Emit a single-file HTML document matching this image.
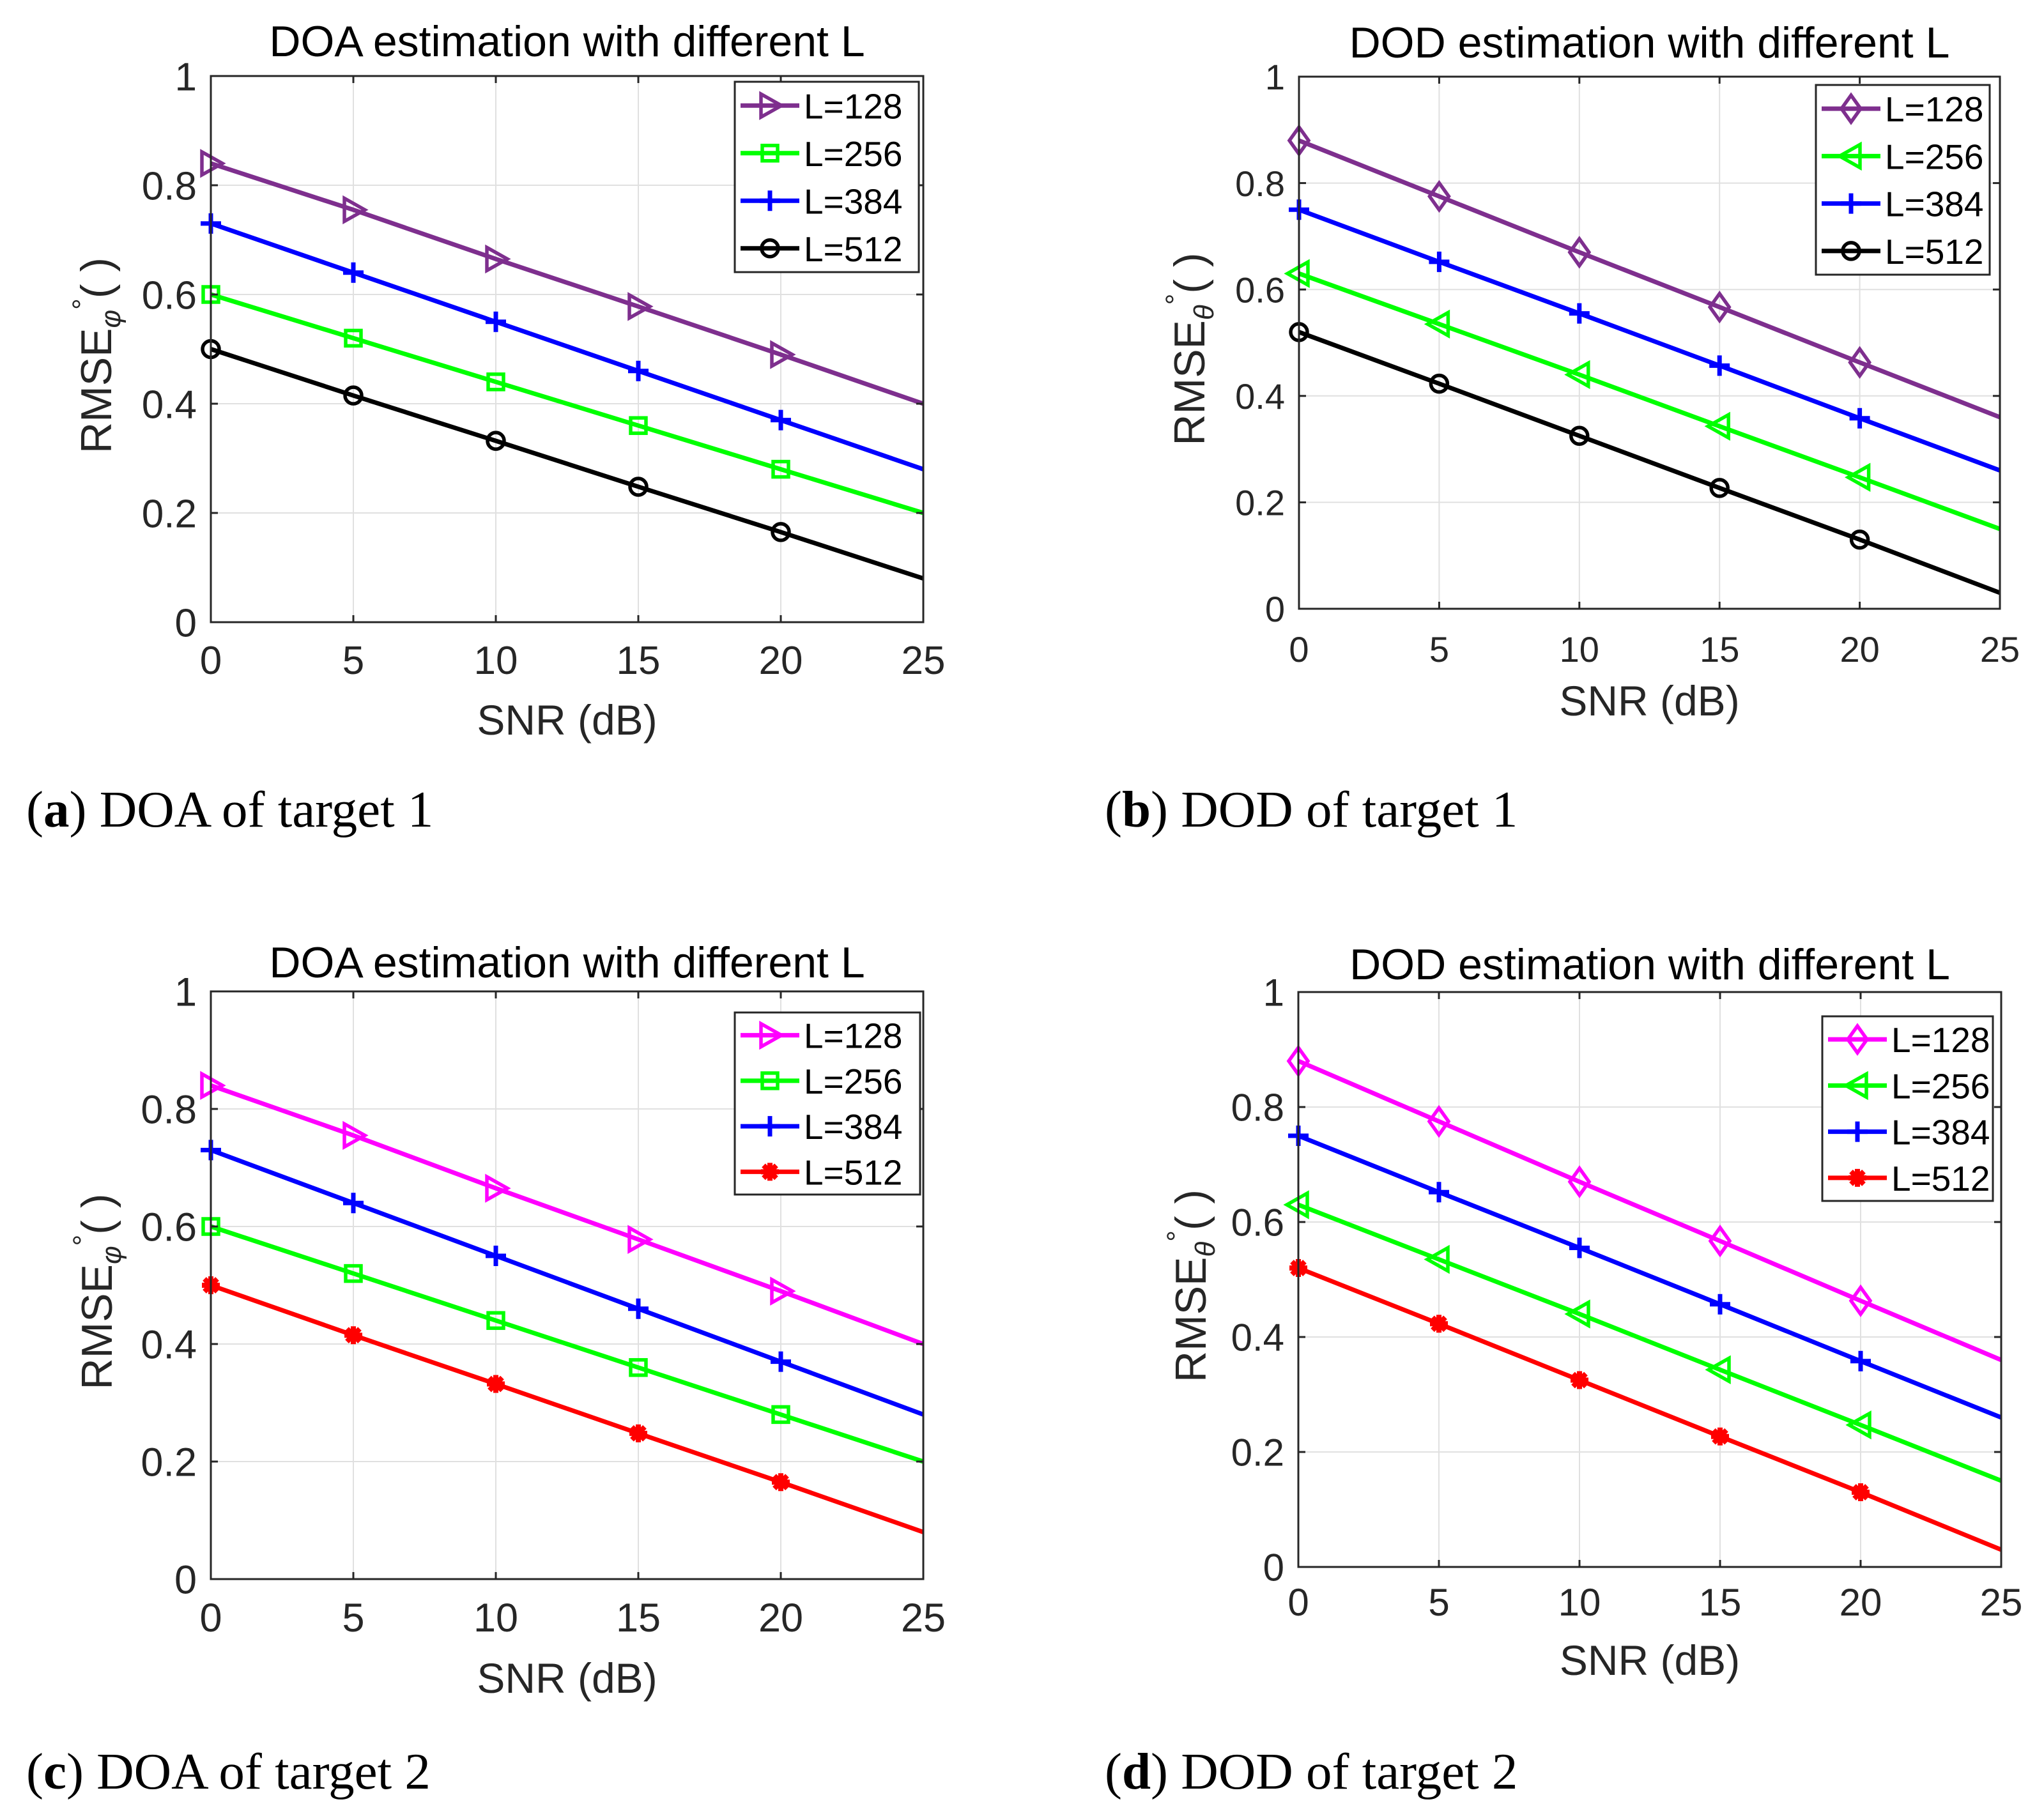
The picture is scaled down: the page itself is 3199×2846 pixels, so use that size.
<!DOCTYPE html>
<html><head><meta charset="utf-8"><style>
html,body{margin:0;padding:0;background:#fff}
svg text{font-family:"Liberation Sans",sans-serif;fill:#262626}
.cap{font-family:"Liberation Serif",serif;fill:#000}
</style></head><body>
<svg id="fig" width="3199" height="2841" viewBox="0 0 3199 2841" xmlns="http://www.w3.org/2000/svg"></svg>
<script>
const snr = [0,5,10,15,20,25];
const xTicks = [0,5,10,15,20,25];
const yTicks = [0,0.2,0.4,0.6,0.8,1];
const yTickLabels = ["0","0.2","0.4","0.6","0.8","1"];
const seriesNames = ["L=128","L=256","L=384","L=512"];
const doaL128 = [0.84,0.755,0.665,0.578,0.49,0.40];
const doaL256 = [0.60,0.52,0.44,0.36,0.28,0.20];
const doaL384 = [0.73,0.64,0.55,0.46,0.37,0.28];
const doaL512 = [0.50,0.415,0.332,0.248,0.165,0.08];
const dodL128 = [0.88,0.775,0.67,0.567,0.463,0.36];
const dodL256 = [0.63,0.535,0.44,0.343,0.247,0.15];
const dodL384 = [0.75,0.652,0.555,0.457,0.358,0.26];
const dodL512 = [0.52,0.423,0.325,0.227,0.13,0.03];

const NS="http://www.w3.org/2000/svg";
const fig=document.getElementById('fig');
function mk(tag,attrs,parent){const e=document.createElementNS(NS,tag);for(const k in attrs)e.setAttribute(k,attrs[k]);(parent||fig).appendChild(e);return e;}

function marker(g,type,cx,cy,color){
  let e;
  if(type==='tri-r'){e=mk('polygon',{points:`${cx+18},${cy} ${cx-14},${cy-18} ${cx-14},${cy+18}`,fill:'none',stroke:color,'stroke-width':5.5},g);}
  else if(type==='tri-l'){e=mk('polygon',{points:`${cx-18},${cy} ${cx+14},${cy-18} ${cx+14},${cy+18}`,fill:'none',stroke:color,'stroke-width':5.5},g);}
  else if(type==='sq'){e=mk('rect',{x:cx-12,y:cy-12,width:24,height:24,fill:'none',stroke:color,'stroke-width':5.5},g);}
  else if(type==='dia'){e=mk('polygon',{points:`${cx},${cy-21} ${cx+15},${cy} ${cx},${cy+21} ${cx-15},${cy}`,fill:'none',stroke:color,'stroke-width':5.5},g);}
  else if(type==='plus'){e=mk('path',{d:`M${cx-16},${cy}H${cx+16}M${cx},${cy-16}V${cy+16}`,stroke:color,'stroke-width':7},g);}
  else if(type==='circ'){e=mk('circle',{cx:cx,cy:cy,r:13,fill:'none',stroke:color,'stroke-width':5.5},g);}
  else if(type==='star'){e=mk('path',{d:`M${cx-14},${cy}H${cx+14}M${cx},${cy-14}V${cy+14}M${cx-10},${cy-10}L${cx+10},${cy+10}M${cx-10},${cy+10}L${cx+10},${cy-10}`,stroke:color,'stroke-width':8},g);}
  
  
}

function panel(p){
  const g=mk('g',{});
  
  
  const X=v=>p.l+(v-0)/25*(p.r-p.l);
  const Y=v=>p.b-(v-0)/1*(p.b-p.t);
  xTicks.forEach(v=>{const ln=mk('line',{x1:X(v),x2:X(v),y1:p.t,y2:p.b,stroke:'#e0e0e0','stroke-width':2},g);
    });
  yTicks.forEach(v=>{const ln=mk('line',{x1:p.l,x2:p.r,y1:Y(v),y2:Y(v),stroke:'#e0e0e0','stroke-width':2},g);
    });
  p.series.forEach((s,i)=>{
    const pts=snr.map((x,j)=>X(x)+','+Y(s.vals[j])).join(' ');
    const pl=mk('polyline',{points:pts,fill:'none',stroke:s.color,'stroke-width':7},g);
    
    
    snr.forEach((x,j)=>{ if(j<5) marker(g,s.m,X(x),Y(s.vals[j]),s.color); });
  });
  const bx=mk('rect',{x:p.l,y:p.t,width:p.r-p.l,height:p.b-p.t,fill:'none',stroke:'#262626','stroke-width':3},g);
  
  xTicks.forEach(v=>{mk('line',{x1:X(v),x2:X(v),y1:p.b,y2:p.b-11,stroke:'#262626','stroke-width':3},g);mk('line',{x1:X(v),x2:X(v),y1:p.t,y2:p.t+11,stroke:'#262626','stroke-width':3},g);
    const t=mk('text',{x:X(v),y:p.xtb,'text-anchor':'middle','font-size':p.fs},g);t.textContent=String(v);
    });
  yTicks.forEach((v,i)=>{mk('line',{x1:p.l,x2:p.l+11,y1:Y(v),y2:Y(v),stroke:'#262626','stroke-width':3},g);mk('line',{x1:p.r,x2:p.r-11,y1:Y(v),y2:Y(v),stroke:'#262626','stroke-width':3},g);
    const t=mk('text',{x:p.l-22,y:Y(v)+p.fs*0.36,'text-anchor':'end','font-size':p.fs},g);t.textContent=yTickLabels[i];
    });
  const tt=mk('text',{x:(p.l+p.r)/2,y:p.titleY,'text-anchor':'middle','font-size':68,style:'fill:#000'},g);
  tt.textContent=p.title;
  const xl=mk('text',{x:(p.l+p.r)/2,y:p.xlabY,'text-anchor':'middle','font-size':66},g);
  xl.textContent='SNR (dB)';
  const yl=mk('text',{transform:`translate(${p.ylabX},${(p.t+p.b)/2+10}) rotate(-90)`,'text-anchor':'middle','font-size':68},g);
  
  yl.innerHTML=`RMSE<tspan font-size="44" font-style="italic" dy="14">${p.sym}</tspan><tspan font-size="44" dy="-44">°</tspan><tspan dy="30">( )</tspan>`;
  const lg=mk('g',{},g);
  mk('rect',{x:p.lg[0],y:p.lg[1],width:p.lg[2]-p.lg[0],height:p.lg[3]-p.lg[1],fill:'#fff',stroke:'#262626','stroke-width':3},lg);
  const step=(p.lg[3]-p.lg[1])/4;
  p.series.forEach((s,i)=>{
    const cy=p.lg[1]+step*(i+0.5);
    const eg=mk('g',{},lg);
    mk('line',{x1:p.lg[0]+9,x2:p.lg[0]+101,y1:cy,y2:cy,stroke:s.color,'stroke-width':7},eg);
    marker(eg,s.m,p.lg[0]+55,cy,s.color);
    const t=mk('text',{x:p.lg[0]+108,y:cy+20,'font-size':55,style:'fill:#000'},eg);t.textContent=seriesNames[i];
  });
  const c=mk('text',{x:p.capX,y:p.capY,'font-size':81,class:'cap'});
  
  c.innerHTML=`(<tspan font-weight="bold">${p.capL}</tspan>) ${p.cap}`;
}

const PUR='#7E2F8E',GRN='#00FF00',BLU='#0000FF',BLK='#000000',MAG='#FF00FF',RED='#FF0000';
panel({name:'panel-a-doa-target1',l:330,r:1445,t:119,b:974,fs:62,xtb:1055,titleY:88,xlabY:1150,ylabX:174,sym:'φ',
  title:'DOA estimation with different L',lg:[1150,128,1438,426],capX:41,capY:1294,capL:'a',cap:'DOA of target 1',
  series:[{vals:doaL128,color:PUR,m:'tri-r'},{vals:doaL256,color:GRN,m:'sq'},{vals:doaL384,color:BLU,m:'plus'},{vals:doaL512,color:BLK,m:'circ'}]});
panel({name:'panel-b-dod-target1',l:2033,r:3130,t:120,b:953,fs:56,xtb:1036,titleY:90,xlabY:1120,ylabX:1885,sym:'θ',
  title:'DOD estimation with different L',lg:[2842,133,3114,430],capX:1729,capY:1294,capL:'b',cap:'DOD of target 1',
  series:[{vals:dodL128,color:PUR,m:'dia'},{vals:dodL256,color:GRN,m:'tri-l'},{vals:dodL384,color:BLU,m:'plus'},{vals:dodL512,color:BLK,m:'circ'}]});
panel({name:'panel-c-doa-target2',l:330,r:1445,t:1552,b:2472,fs:63,xtb:2554,titleY:1530,xlabY:2650,ylabX:175,sym:'φ',
  title:'DOA estimation with different L',lg:[1150,1585,1440,1870],capX:41,capY:2800,capL:'c',cap:'DOA of target 2',
  series:[{vals:doaL128,color:MAG,m:'tri-r'},{vals:doaL256,color:GRN,m:'sq'},{vals:doaL384,color:BLU,m:'plus'},{vals:doaL512,color:RED,m:'star'}]});
panel({name:'panel-d-dod-target2',l:2032,r:3132,t:1553,b:2453,fs:60,xtb:2529,titleY:1533,xlabY:2622,ylabX:1887,sym:'θ',
  title:'DOD estimation with different L',lg:[2852,1591,3119,1880],capX:1729,capY:2800,capL:'d',cap:'DOD of target 2',
  series:[{vals:dodL128,color:MAG,m:'dia'},{vals:dodL256,color:GRN,m:'tri-l'},{vals:dodL384,color:BLU,m:'plus'},{vals:dodL512,color:RED,m:'star'}]});
</script>
</body></html>
